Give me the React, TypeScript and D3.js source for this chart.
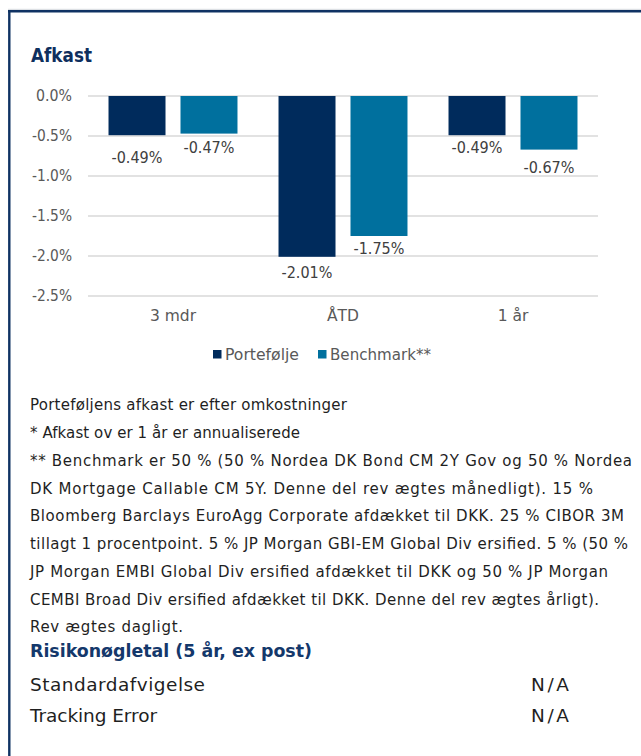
import React from 'react';
import * as d3 from 'd3';

// ---- data ----
const categories = ['3 mdr', 'ÅTD', '1 år'];
const seriesNames = ['Portefølje', 'Benchmark**'];
const portfolioValues = [-0.49, -2.01, -0.49];
const benchmarkValues = [-0.47, -1.75, -0.67];
const yTicks = [0, -0.5, -1, -1.5, -2, -2.5];
const footnoteLines = [
  'Porteføljens afkast er efter omkostninger',
  '* Afkast ov er 1 år er annualiserede',
  '** Benchmark er 50 % (50 % Nordea DK Bond CM 2Y Gov og 50 % Nordea',
  'DK Mortgage Callable CM 5Y. Denne del rev ægtes månedligt). 15 %',
  'Bloomberg Barclays EuroAgg Corporate afdækket til DKK. 25 % CIBOR 3M',
  'tillagt 1 procentpoint. 5 % JP Morgan GBI-EM Global Div ersified. 5 % (50 %',
  'JP Morgan EMBI Global Div ersified afdækket til DKK og 50 % JP Morgan',
  'CEMBI Broad Div ersified afdækket til DKK. Denne del rev ægtes årligt).',
  'Rev ægtes dagligt.',
];
const riskTitle = 'Risikonøgletal (5 år, ex post)';
const riskLabels = ['Standardafvigelse', 'Tracking Error'];
const riskValues = ['N/A', 'N/A'];

// ---- layout (not data) ----
const footnoteWidths = [317, 270, 602, 563, 594, 598, 578, 569, 153];
const labelGap = [
  [22, 14],
  [15.5, 12.3],
  [12.5, 17.7],
];
const FONT = '"DejaVu Sans", sans-serif';
const NAVY = '#0f3263';
const colors = ['#002b5c', '#00709e'];

export default function App() {
  const W = 641, H = 756;
  const left = 88, right = 598, top = 96, bottom = 296;

  const y = d3.scaleLinear().domain([-2.5, 0]).range([bottom, top]);
  const x0 = d3.scaleBand<string>().domain(categories).range([left, right]).padding(0);
  const x1 = d3
    .scaleBand<string>()
    .domain(seriesNames)
    .range([0, x0.bandwidth()])
    .paddingInner(0.2083)
    .paddingOuter(0.285);

  const seriesValues = [portfolioValues, benchmarkValues];

  return (
    <svg
      width={W}
      height={H}
      style={{ position: 'absolute', left: 0, top: 0, background: '#fff' }}
      fontFamily={FONT}
    >
      <rect x={0} y={0} width={W} height={H} fill="#fff" />
      {/* frame */}
      <line x1={8} x2={W} y1={9.3} y2={9.3} stroke="#d5d9de" strokeWidth={1} />
      <line x1={8} x2={W} y1={11.2} y2={11.2} stroke={NAVY} strokeWidth={2.4} />
      <line x1={9.3} x2={9.3} y1={10} y2={H} stroke={NAVY} strokeWidth={2.4} />

      {/* title */}
      <text x={31} y={62} fontSize={19.5} fontWeight="bold" fill="#0e2f5e" textLength={61} lengthAdjust="spacingAndGlyphs">
        Afkast
      </text>

      {/* gridlines + y ticks */}
      {yTicks.map((t) => (
        <g key={t}>
          <line x1={left} x2={right} y1={y(t)} y2={y(t)} stroke="#d9d9d9" strokeWidth={1.4} />
          <text x={72} y={y(t)} dy="0.36em" textAnchor="end" fontSize={15} fill="#595959" textLength={t === 0 ? 36 : 40} lengthAdjust="spacingAndGlyphs">
            {t.toFixed(1) + '%'}
          </text>
        </g>
      ))}

      {/* bars */}
      {categories.map((c, ci) => (
        <g key={c} transform={`translate(${x0(c)},0)`}>
          {seriesNames.map((s, si) => {
            const v = seriesValues[si][ci];
            const bx = x1(s)!;
            const by = y(0);
            const bh = y(v) - y(0);
            return (
              <g key={s}>
                <rect x={bx} y={by} width={x1.bandwidth()} height={bh} fill={colors[si]} />
                <text
                  x={bx + x1.bandwidth() / 2}
                  y={y(v) + labelGap[ci][si]}
                  dy="0.36em"
                  textAnchor="middle"
                  fontSize={15}
                  fill="#404040"
                  textLength={51}
                  lengthAdjust="spacingAndGlyphs"
                >
                  {v.toFixed(2) + '%'}
                </text>
              </g>
            );
          })}
          <text
            x={x0.bandwidth() / 2}
            y={315}
            dy="0.36em"
            textAnchor="middle"
            fontSize={15.5}
            fill="#595959"
          >
            {c}
          </text>
        </g>
      ))}

      {/* legend */}
      {seriesNames.map((s, i) => {
        const lx = [213, 318][i];
        return (
          <g key={s}>
            <rect x={lx} y={350} width={8.5} height={8.5} fill={colors[i]} />
            <text x={lx + 12} y={354.3} dy="0.36em" fontSize={15.5} fill="#595959" textLength={[74, 101][i]} lengthAdjust="spacingAndGlyphs">
              {s}
            </text>
          </g>
        );
      })}

      {/* footnotes */}
      {footnoteLines.map((l, i) => (
        <text
          key={i}
          x={30}
          y={405 + i * 27.75}
          dy="0.36em"
          fontSize={15}
          fill="#1f1f1f"
          textLength={footnoteWidths[i]}
          lengthAdjust="spacing"
        >
          {l}
        </text>
      ))}

      {/* risk */}
      <text x={30} y={651} dy="0.36em" fontSize={17.5} fontWeight="bold" fill="#14386b" textLength={282} lengthAdjust="spacingAndGlyphs">
        {riskTitle}
      </text>
      {riskLabels.map((l, i) => (
        <g key={l}>
          <text
            x={30}
            y={684 + i * 31}
            dy="0.36em"
            fontSize={18.5}
            fill="#1f1f1f"
            textLength={[175, 127][i]}
            lengthAdjust="spacing"
          >
            {l}
          </text>
          <text x={531} y={684 + i * 31} dy="0.36em" fontSize={18.5} fill="#1f1f1f" textLength={38} lengthAdjust="spacing">
            {riskValues[i]}
          </text>
        </g>
      ))}
    </svg>
  );
}
